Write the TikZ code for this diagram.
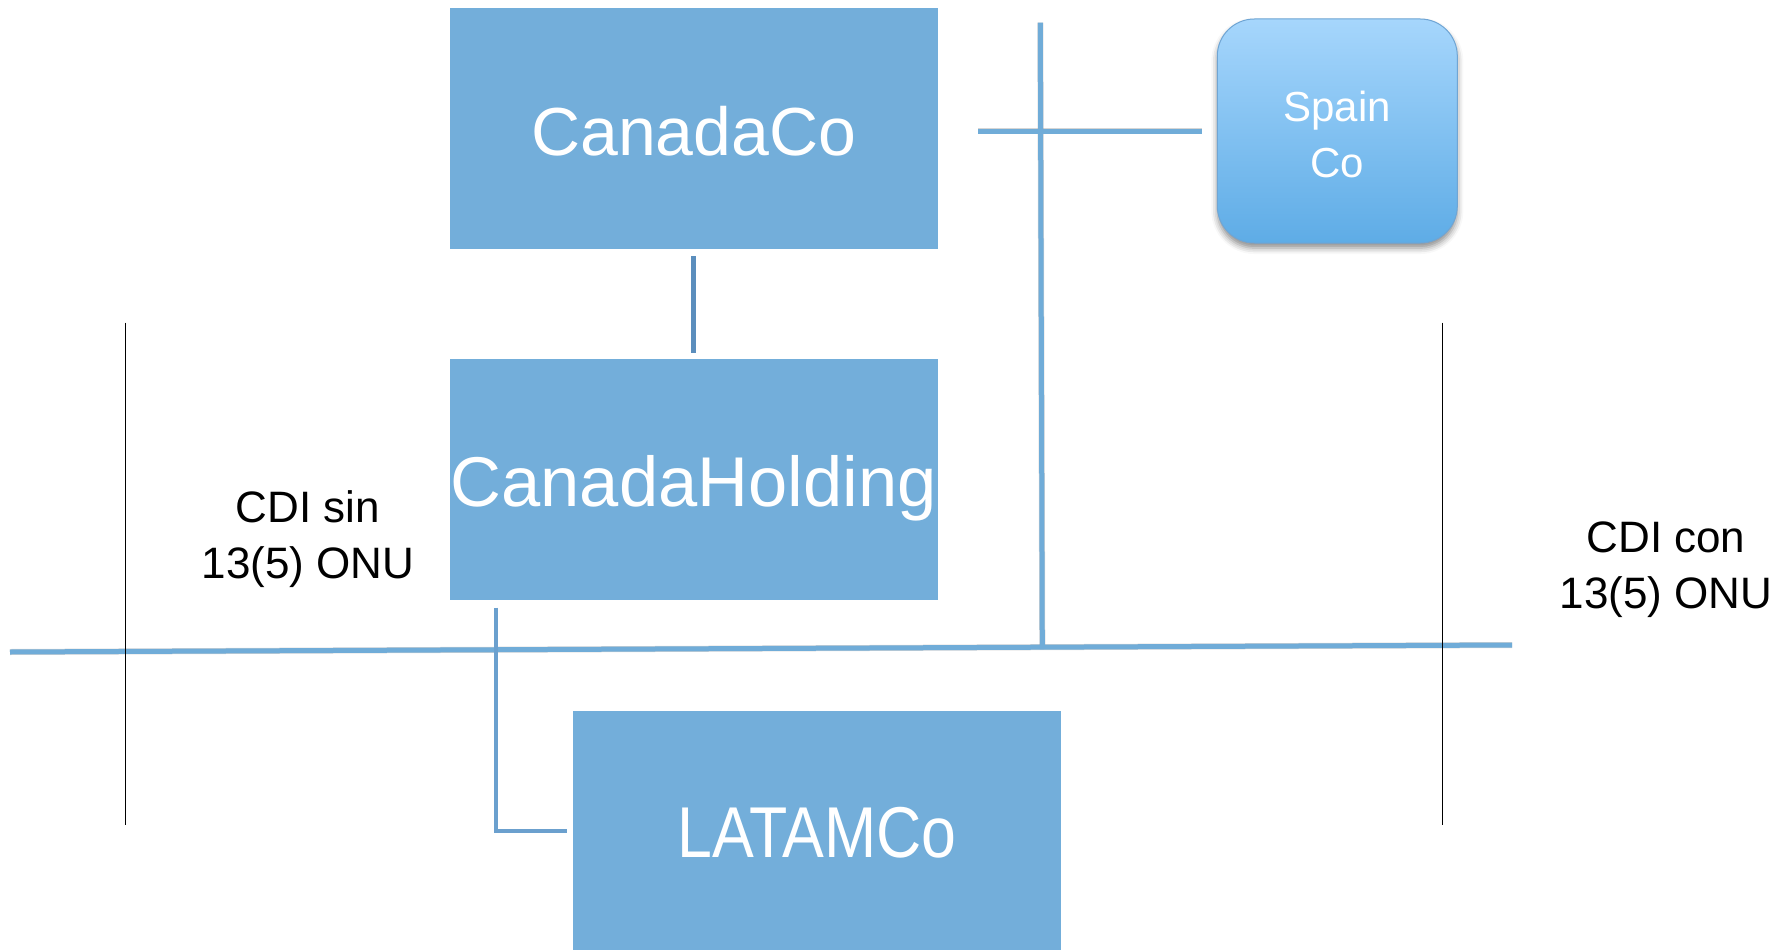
\documentclass[tikz,border=0pt]{standalone}
\usepackage{fontspec}
\setmainfont{Liberation Sans}
\newfontfamily\narrowfont[FakeStretch=0.87]{Liberation Sans}
\usetikzlibrary{shadows.blur}

\definecolor{boxfill}{RGB}{115,174,218}
\definecolor{lineblue}{RGB}{112,172,216}
\definecolor{linkdark}{RGB}{91,142,189}
\definecolor{elbowblue}{RGB}{107,160,206}
\definecolor{spaintop}{RGB}{166,214,252}
\definecolor{spainbot}{RGB}{94,172,230}
\definecolor{spainedge}{RGB}{111,165,212}

% lower a label inside its node without changing the node's size
\newcommand{\lowered}[2]{\raisebox{-#1}[\height][\depth]{#2}}

\tikzset{
  company/.style={rectangle, fill=boxfill, draw=none, inner sep=0pt,
    minimum width=488pt, minimum height=241pt, text=white,
    font=\fontsize{68}{80}\selectfont},
  spainbox/.style={rectangle, rounded corners=37pt, top color=spaintop,
    bottom color=spainbot, draw=spainedge, line width=1pt, inner sep=0pt,
    minimum width=240pt, minimum height=224pt, text=white,
    font=\fontsize{42}{56}\selectfont,
    blur shadow={shadow xshift=0pt, shadow yshift=-5pt,
      shadow blur radius=6pt, shadow opacity=45}},
  label/.style={align=center, inner sep=0pt, text=black,
    font=\fontsize{44}{56}\selectfont},
  blueline/.style={draw=lineblue, line width=5pt},
  lineshade/.style={draw=black!55, opacity=0.3, line width=6pt},
  divider/.style={draw=black, line width=1.5pt},
}

\begin{document}
\begin{tikzpicture}[x=1pt, y=-1pt]
\useasboundingbox (0,0) rectangle (1789,950);

% company boxes
\node[company] (canadaco) at (693.7,128.4) {\lowered{2.5pt}{CanadaCo}};
\node[company, font=\fontsize{70.5}{80}\selectfont] (holding) at (693.7,479.8)
  {\lowered{8pt}{CanadaHolding}};
\node[company, minimum height=240pt, font=\narrowfont\fontsize{72}{84}\selectfont]
  (latam) at (817,830.5) {\lowered{2.5pt}{LATAMCo}};
\node[spainbox] (spain) at (1337.3,131)
  {\lowered{7pt}{\begin{tabular}{@{}c@{}}Spain\\Co\end{tabular}}};

% free ends of the ruling lines
\coordinate (longL) at (10,652);
\coordinate (longR) at (1512,645);
\coordinate (vtop) at (1040.3,22.7);
\coordinate (vbot) at (1042.3,649);
\coordinate (hleft) at (978,131);

% soft shadows under the blue lines
\begin{scope}[shift={(1,3.5)}]
  \draw[lineshade] (longL) -- (longR);
  \draw[lineshade] (vtop) -- (vbot);
  \draw[lineshade] (hleft) -- ([xshift=-15pt]spain.west);
\end{scope}

% blue ruling lines
\draw[blueline] (longL) -- (longR);
\draw[blueline] (vtop) -- (vbot);
\draw[blueline] (hleft) -- ([xshift=-15pt]spain.west);

% ownership links
\draw[draw=linkdark, line width=4.5pt]
  ([yshift=-7pt]canadaco.south) -- ([yshift=6pt]holding.north);
\draw[draw=elbowblue, line width=4pt]
  ([xshift=46pt,yshift=-7pt]holding.south west) |- ([xshift=-6pt]latam.west);

% thin black dividers
\coordinate (d1t) at (125.7,322.5);
\coordinate (d1b) at (125.7,825);
\coordinate (d2t) at (1442.5,322.5);
\coordinate (d2b) at (1442.5,825);
\draw[divider] (d1t) -- (d1b);
\draw[divider] (d2t) -- (d2b);

% side labels
\node[label] (sin) at (308,539) {CDI sin\\13(5) ONU};
\node[label] (con) at (1666,570) {CDI con\\13(5) ONU};
\end{tikzpicture}
\end{document}
